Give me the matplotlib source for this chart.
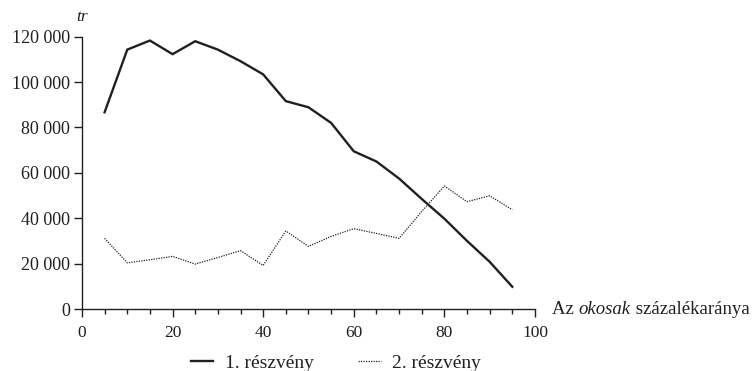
import matplotlib
matplotlib.use("Agg")
import matplotlib.pyplot as plt
from matplotlib.ticker import FuncFormatter, MultipleLocator
from matplotlib.lines import Line2D

# share of "smart" traders (%)
pct = [5, 10, 15, 20, 25, 30, 35, 40, 45, 50, 55, 60, 65, 70, 75, 80, 85, 90, 95]
# stock 1 and stock 2 values (tr)
stock1 = [86700, 114300, 118300, 112300, 118000, 114300, 109200, 103400, 91600, 88900,
          82000, 69500, 65000, 57500, 48500, 39800, 30000, 20800, 9800]
stock2 = [31150, 20350, 21700, 23200, 19800, 22700, 25700, 19200, 34400, 27600,
          32000, 35400, 33300, 31150, 43000, 54200, 47300, 49900, 43700]

labels = ["1. részvény", "2. részvény"]
yticks = [0, 20000, 40000, 60000, 80000, 100000, 120000]

plt.rcParams["font.family"] = "Liberation Serif"
plt.rcParams["font.size"] = 12.5
ink = "#231f20"

fig = plt.figure(figsize=(7.52, 3.71), dpi=100)
ax = fig.add_axes([0.109, 0.1671, 0.6024, 0.734])

ax.plot(pct, stock1, color=ink, lw=1.7, solid_joinstyle="miter")
ax.plot(pct, stock2, color=ink, lw=0.9, linestyle=(0, (1, 1)))

ax.set_xlim(0, 100)
ax.set_ylim(0, 120000)
ax.set_yticks(yticks)
ax.yaxis.set_major_formatter(FuncFormatter(lambda v, p: f"{int(v):,}".replace(",", " ")))
ax.xaxis.set_major_locator(MultipleLocator(20))
ax.xaxis.set_minor_locator(MultipleLocator(5))

for s in ["top", "right"]:
    ax.spines[s].set_visible(False)
for s in ["left", "bottom"]:
    ax.spines[s].set_color(ink)
    ax.spines[s].set_linewidth(1.0)
ax.tick_params(which="major", direction="out", length=5.5, width=1.0, color=ink,
               labelcolor=ink, labelsize=12.5)
ax.tick_params(axis="y", which="major", labelsize=13, pad=3)
ax.tick_params(axis="x", which="major", pad=6)
ax.tick_params(which="minor", direction="out", length=3.5, width=1.0, color=ink)

# y unit label
fig.text(82 / 752, 1 - 17 / 371, "tr", style="italic", ha="center", va="center",
         fontsize=12.5, color=ink)

# x axis label with italic word
fig.canvas.draw()
renderer = fig.canvas.get_renderer()
x0 = 552 / 752
yc = 1 - 310 / 371
for part, st in [("Az ", "normal"), ("okosak", "italic"), (" százalékaránya", "normal")]:
    t = fig.text(x0, yc, part, style=st, ha="left", va="center", fontsize=13.5, color=ink)
    bb = t.get_window_extent(renderer)
    x0 += bb.width / fig.bbox.width

handles = [Line2D([], [], color=ink, lw=1.7),
           Line2D([], [], color=ink, lw=0.9, linestyle=(0, (1, 1)))]
fig.legend(handles, labels, loc="center", bbox_to_anchor=(336 / 752, 1 - 363 / 371),
           ncol=2, frameon=False, fontsize=14, handlelength=1.15, handletextpad=0.6,
           columnspacing=2.3, labelcolor=ink, borderpad=0)

fig.savefig("out.png", dpi=100)
